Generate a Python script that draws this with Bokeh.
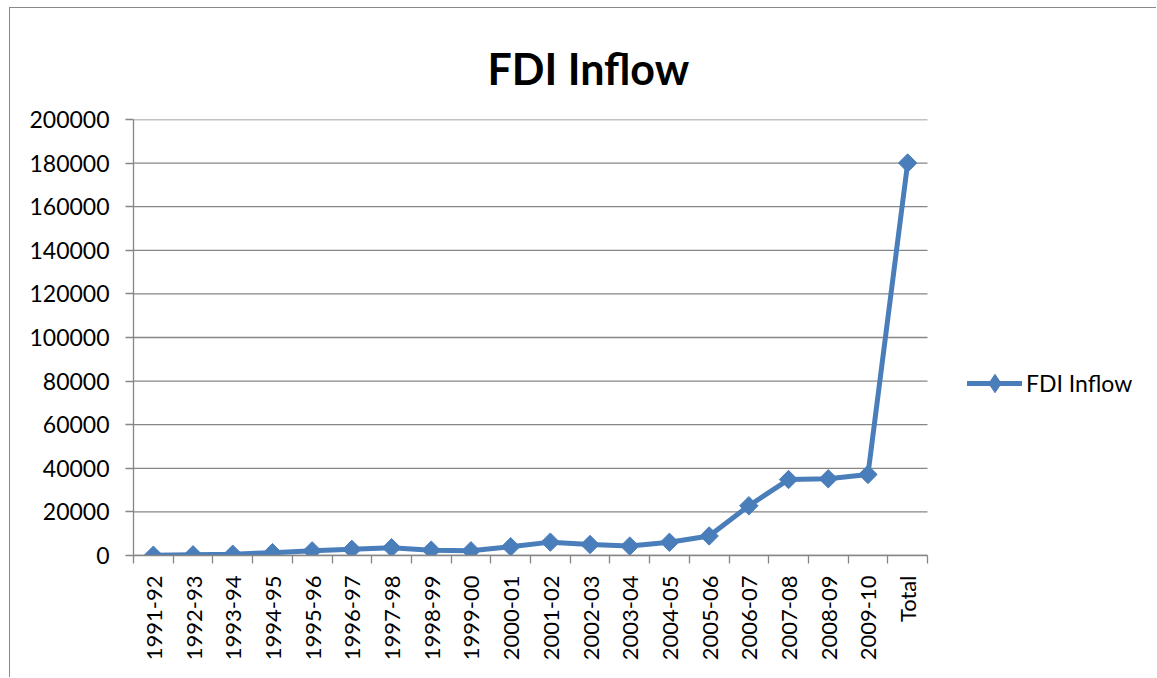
import math
from bokeh.plotting import figure
from bokeh.models import FixedTicker, Range1d, Legend, LegendItem, ColumnDataSource
from bokeh.embed import file_html
from bokeh.resources import INLINE

categories = ["1991-92", "1992-93", "1993-94", "1994-95", "1995-96", "1996-97",
              "1997-98", "1998-99", "1999-00", "2000-01", "2001-02", "2002-03",
              "2003-04", "2004-05", "2005-06", "2006-07", "2007-08", "2008-09",
              "2009-10", "Total"]
fdi_inflow = [129, 315, 586, 1314, 2144, 2821, 3557, 2462, 2155, 4029, 6130,
              5035, 4322, 6051, 8961, 22826, 34843, 35180, 37182, 180042]
y_ticks = [0, 20000, 40000, 60000, 80000, 100000, 120000, 140000, 160000, 180000, 200000]

FONT = "Lato"
BLUE = "#4a7ebb"
GRAY = "#868686"

n = len(categories)
xpos = [i + 0.5 for i in range(n)]
src = ColumnDataSource(dict(x=xpos, y=fdi_inflow))

# plot area spans 794 px for the categories; the frame continues to the right
# edge so the legend (drawn inside the frame) is not clipped
PLOT_W = 794
FRAME_W = 1024
x_end = n * FRAME_W / PLOT_W

p = figure(width=1147, height=670, output_backend="svg", toolbar_location=None,
           x_range=Range1d(0, x_end), y_range=Range1d(0, 200000),
           min_border_left=123, min_border_right=0, min_border_top=111,
           min_border_bottom=123)
p.styles = {"border-top": "1px solid #898989", "border-left": "1px solid #898989",
            "margin-left": "9px", "margin-top": "7px"}

p.title.text = "FDI Inflow"
p.title.text_font = FONT
p.title.text_font_size = "43px"
p.title.text_font_style = "bold"
p.title.text_color = "black"
p.title.align = "left"
p.title.offset = 354
p.title.vertical_align = "top"
p.title.standoff = 48

p.outline_line_color = None
p.xgrid.grid_line_color = None
p.ygrid.grid_line_color = None

# horizontal gridlines limited to the category area
p.segment(x0=[0] * len(y_ticks), x1=[n] * len(y_ticks), y0=y_ticks, y1=y_ticks,
          line_color=GRAY, line_width=1.3, level="underlay")

# x axis
xt = FixedTicker(ticks=xpos, minor_ticks=list(range(n + 1)))
p.xaxis.ticker = xt
p.xaxis.bounds = (0, n)
p.xaxis.major_label_overrides = {x: c for x, c in zip(xpos, categories)}
p.xaxis.major_label_orientation = math.pi / 2
p.xaxis.major_tick_out = 0
p.xaxis.major_tick_in = 0
p.xaxis.minor_tick_out = 8
p.xaxis.minor_tick_in = 0
p.xaxis.minor_tick_line_color = GRAY
p.xaxis.minor_tick_line_width = 1.3
p.xaxis.axis_line_color = GRAY
p.xaxis.axis_line_width = 1.3
p.xaxis.major_label_text_font = FONT
p.xaxis.major_label_text_font_size = "22px"
p.xaxis.major_label_text_color = "black"
p.xaxis.major_label_standoff = 12

# y axis
p.yaxis.ticker = FixedTicker(ticks=y_ticks)
p.yaxis.major_label_overrides = {t: str(t) for t in y_ticks}
p.yaxis.minor_tick_line_color = None
p.yaxis.major_tick_out = 8
p.yaxis.major_tick_in = 0
p.yaxis.major_tick_line_color = GRAY
p.yaxis.major_tick_line_width = 1.3
p.yaxis.axis_line_color = GRAY
p.yaxis.axis_line_width = 1.3
p.yaxis.major_label_text_font = FONT
p.yaxis.major_label_text_font_size = "23px"
p.yaxis.major_label_text_color = "black"
p.yaxis.major_label_standoff = 16

ln = p.line("x", "y", source=src, line_color=BLUE, line_width=5, line_join="round")
sc = p.scatter("x", "y", source=src, marker="square", size=13, angle=math.pi / 4,
               fill_color=BLUE, line_color=BLUE)

# legend proxy glyphs (a single NaN point, so nothing is drawn in the plot)
proxy = ColumnDataSource(dict(x=[float("nan")], y=[float("nan")]))
lg_line = p.line("x", "y", source=proxy, line_color=BLUE, line_width=5, line_cap="round")
lg_mark = p.scatter("x", "y", source=proxy, marker="diamond", size=19,
                    fill_color=BLUE, line_color=BLUE)

legend = Legend(items=[LegendItem(label="FDI Inflow", renderers=[lg_line, lg_mark])],
                location=(834, 149), orientation="vertical")
legend.glyph_width = 55
legend.glyph_height = 46
legend.label_standoff = 4
legend.padding = 0
legend.margin = 0
legend.border_line_color = None
legend.background_fill_alpha = 0
legend.label_text_font = FONT
legend.label_text_font_size = "23px"
legend.label_text_color = "black"
p.add_layout(legend, "center")

open("out.html", "w").write(file_html(p, INLINE))
